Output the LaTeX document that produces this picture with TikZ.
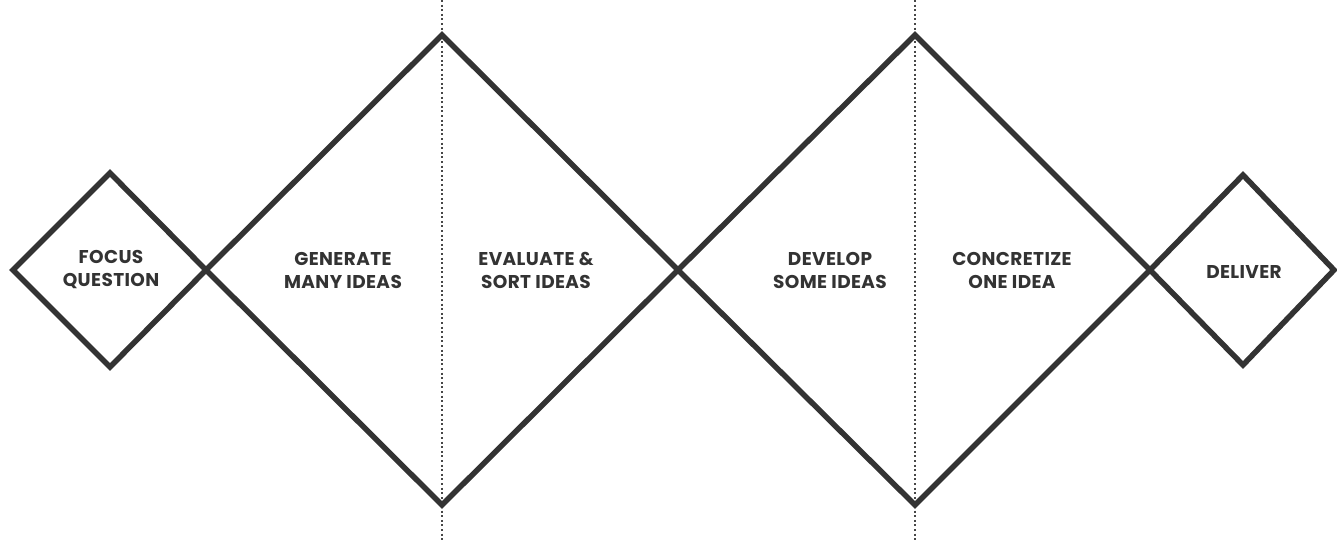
\documentclass[tikz,border=0pt]{standalone}
\usepackage{fontspec}
\setmainfont{Poppins}[LetterSpace=2]
\usepackage{tikz}
\definecolor{ink}{HTML}{333333}
\tikzset{
	stage/.style={line width=5.5pt,draw=ink,line join=miter},
	divider/.style={line width=2.2pt,draw=ink!90,dash pattern=on 2pt off 2.6pt},
	label/.style={font=\bfseries\fontsize{18.5}{23}\selectfont,text=ink,align=center}
}
\begin{document}
\begin{tikzpicture}[x=1pt,y=-1pt]
		\useasboundingbox (0,0) rectangle (1337,542);
		% joints between the stages
		\coordinate (q0) at (13,270);
		\coordinate (q1) at (206,270);
		\coordinate (q2) at (678,270);
		\coordinate (q3) at (1150,270);
		\coordinate (q4) at (1334,270);
		% dotted dividers
		\draw[divider] (442,0)--(442,542);
		\draw[divider] (915,0)--(915,542);
		% diamonds
		\draw[stage] (q0)--(110,173)--(q1)--(110,367)--cycle;
		\draw[stage] (q1)--(442,35)--(q2)--(442,505)--cycle;
		\draw[stage] (q2)--(915,35)--(q3)--(915,505)--cycle;
		\draw[stage] (q3)--(1243,175)--(q4)--(1243,365)--cycle;
		% stage names
		\node[label] (focus) at (111,270) {FOCUS\\QUESTION};
		\node[label] (generate) at (343,270) {GENERATE\\MANY IDEAS};
		\node[label] (evaluate) at (536,270) {EVALUATE \&\\SORT IDEAS};
		\node[label] (develop) at (830,270) {DEVELOP\\SOME IDEAS};
		\node[label] (concretize) at (1012,270) {CONCRETIZE\\ONE IDEA};
		\node[label] (deliver) at (1244,272) {DELIVER};
		\end{tikzpicture}
\end{document}
